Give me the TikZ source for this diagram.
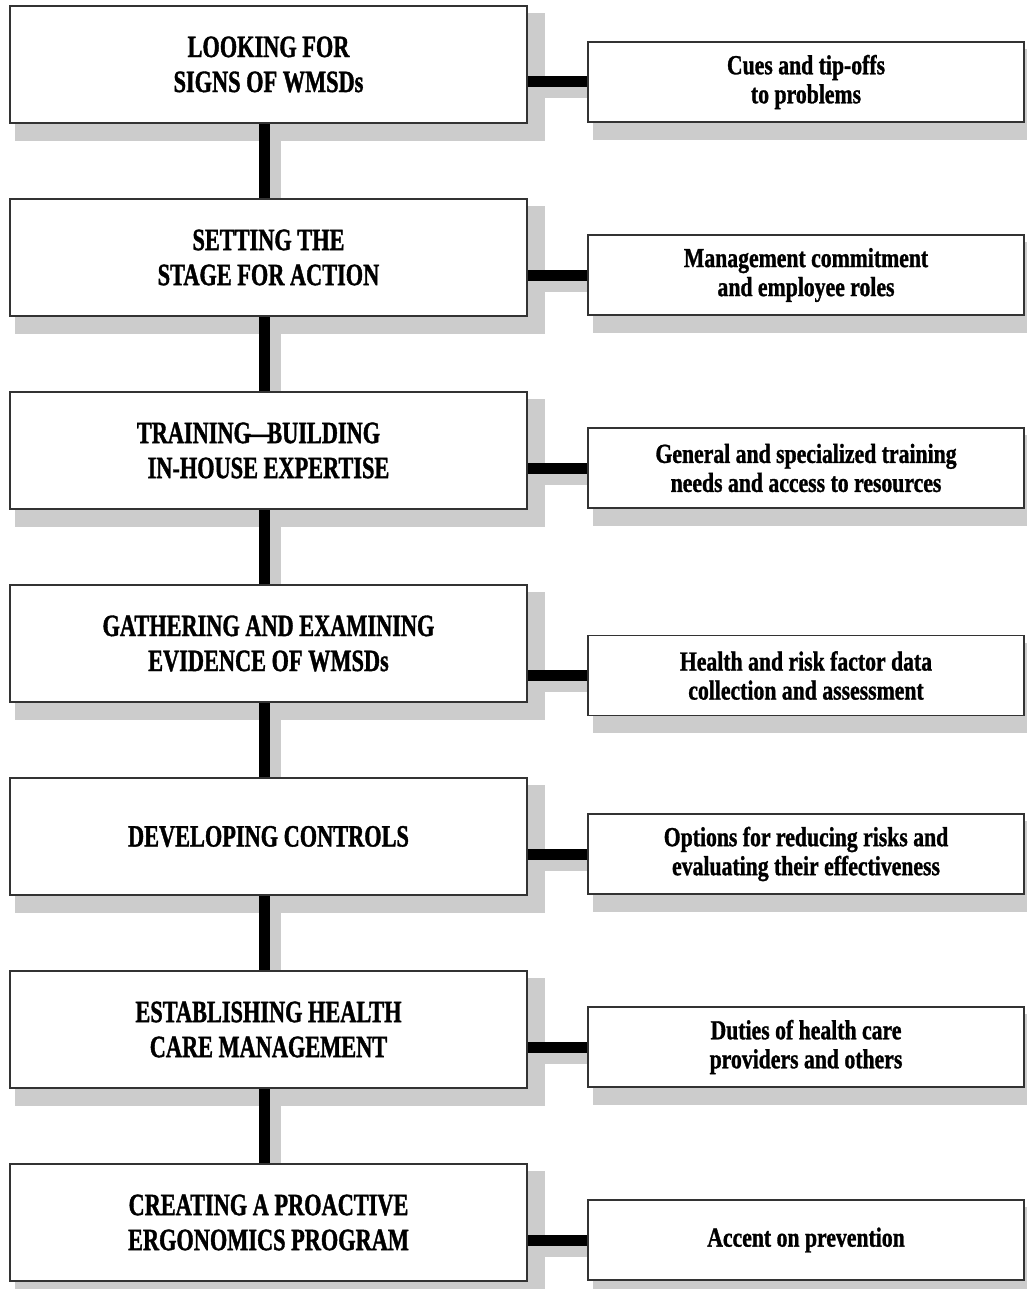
\documentclass[tikz,border=0pt]{standalone}
\usepackage{fontspec}
\newfontfamily\leftfont[FakeStretch=0.72,FakeBold=1.2]{Liberation Serif}
\newfontfamily\rightfont[FakeStretch=0.79,FakeBold=1.1]{Liberation Serif}
\usetikzlibrary{calc}
\pgfdeclarelayer{bg}
\pgfsetlayers{bg,main}
\definecolor{shadowgray}{HTML}{CCCCCC}
\definecolor{edgegray}{HTML}{333333}
\begin{document}
\begin{tikzpicture}[x=1pt,y=-1pt,
  lbox/.style={draw=edgegray, line width=1.6pt, fill=white, minimum width=517pt, minimum height=117pt, inner sep=0pt, align=center, font=\leftfont\bfseries\fontsize{31}{35}\selectfont},
  rbox/.style={draw=edgegray, line width=1.6pt, fill=white, minimum width=436pt, minimum height=80pt, inner sep=0pt, align=center, font=\rightfont\bfseries\fontsize{27.5}{29}\selectfont},
  conn/.style={line width=11pt, black},
  connshadow/.style={line width=11pt, shadowgray},
  boxshadow/.style={fill=shadowgray, draw=none},
]
\useasboundingbox (0,0) rectangle (1026,1289);

% left boxes
\node[lbox] (L1) at (268.5,64.5)  {LOOKING FOR\\SIGNS OF WMSDs};
\node[lbox] (L2) at (268.5,257.5) {SETTING THE\\STAGE FOR ACTION};
\node[lbox] (L3) at (268.5,450.5) {TRAINING\kern-2pt—\kern-4pt BUILDING\hspace*{20pt}\\IN-HOUSE EXPERTISE};
\node[lbox] (L4) at (268.5,643.5) {GATHERING AND EXAMINING\\EVIDENCE OF WMSDs};
\node[lbox] (L5) at (268.5,836.5) {DEVELOPING CONTROLS};
\node[lbox] (L6) at (268.5,1029.5) {ESTABLISHING HEALTH\\CARE MANAGEMENT};
\node[lbox] (L7) at (268.5,1222.5) {CREATING A PROACTIVE\\ERGONOMICS PROGRAM};

% right boxes
\node[rbox] (R1) at (806,82)    {Cues and tip-offs\\to problems};
\node[rbox] (R2) at (806,275)   {Management commitment\\and employee roles};
\node[rbox] (R3) at (806,468)   {General and specialized training\\needs and access to resources};
\node[rbox] (R4) at (806,675.5) {Health and risk factor data\\collection and assessment};
\node[rbox] (R5) at (806,854)   {Options for reducing risks and\\evaluating their effectiveness};
\node[rbox] (R6) at (806,1047)  {Duties of health care\\providers and others};
\node[rbox] (R7) at (806,1240)  {Accent on prevention};

% shadows
\begin{pgfonlayer}{bg}
  \foreach \n in {L1,L2,L3,L4,L5,L6,L7,R1,R2,R3,R4,R5,R6,R7}{
    \fill[boxshadow] ($(\n.north west)+(6,8)$) rectangle ($(\n.south east)+(17,17)$);
  }
  \foreach \a/\b in {L1/L2,L2/L3,L3/L4,L4/L5,L5/L6,L6/L7}{
    \draw[connshadow] ([xshift=7pt]\a.south) -- ([xshift=7pt]\b.north);
  }
  \foreach \a/\b in {L1/R1,L2/R2,L3/R3,L4/R4,L5/R5,L6/R6,L7/R7}{
    \draw[connshadow] ([yshift=-11pt]\a.east |- \b.west) -- ([yshift=-11pt]\b.west);
  }
\end{pgfonlayer}

% connectors
\begin{pgfonlayer}{bg}
  \foreach \a/\b in {L1/L2,L2/L3,L3/L4,L4/L5,L5/L6,L6/L7}{
    \draw[conn] ([xshift=-4pt]\a.south) -- ([xshift=-4pt]\b.north);
  }
  \foreach \a/\b in {L1/R1,L2/R2,L3/R3,L4/R4,L5/R5,L6/R6,L7/R7}{
    \draw[conn] (\a.east |- \b.west) -- (\b.west);
  }
\end{pgfonlayer}
\end{tikzpicture}
\end{document}
